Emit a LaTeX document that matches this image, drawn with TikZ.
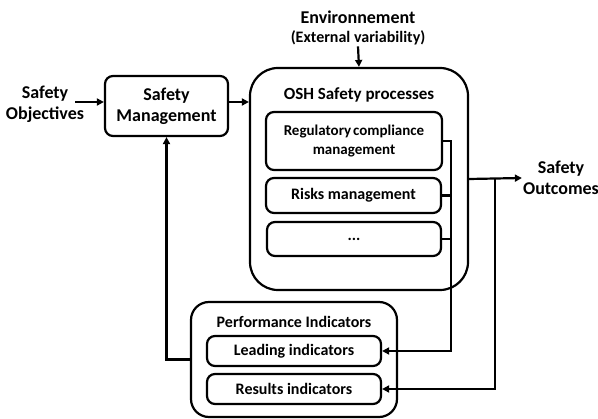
\documentclass[tikz,border=0pt]{standalone}
\usepackage{fontspec}
\setmainfont{Carlito}
\usetikzlibrary{arrows.meta}
\begin{document}
\begin{tikzpicture}[x=1pt,y=-1pt,
  every node/.style={font=\bfseries},
  box/.style={draw,line width=2.2pt,rounded corners=8pt,inner sep=0pt,align=center},
  lbl/.style={inner sep=1pt,align=center},
  conn/.style={line width=2.2pt},
  arr/.style={conn,-{Triangle[length=7pt,width=7pt]}},
  big/.style={font=\fontsize{18}{21}\selectfont\bfseries},
  mid/.style={font=\fontsize{17}{20}\selectfont\bfseries},
  small/.style={font=\fontsize{16}{19}\selectfont\bfseries},
  tiny/.style={font=\fontsize{15}{19}\selectfont\bfseries}]
\useasboundingbox (0,0) rectangle (598,419);
% nodes
\node[lbl,big] (obj) at (45,104) {Safety\\Objectives};
\node[box,big,minimum width=123pt,minimum height=60pt] (sm) at (166.5,106) {Safety\\Management};
\node[box,rounded corners=28pt,minimum width=218pt,minimum height=222pt] (osh) at (359,179) {};
\node[lbl,big] (env) at (358,17) {Environnement};
\node[lbl,small] (ext) at (358,38) {(External variability)};
\node[lbl,mid] (oshtitle) at (359,95) {OSH Safety processes};
\node[box,tiny,minimum width=176pt,minimum height=58pt] (r1) at (354,141) {Regulatory\hspace{0.12em}compliance\\management};
\node[box,small,minimum width=175pt,minimum height=35pt] (r2) at (353.5,195.5) {Risks management};
\node[box,small,minimum width=174pt,minimum height=34pt] (r3) at (354,239) {...};
\node[lbl,big] (out) at (561,178) {Safety\\Outcomes};
\node[box,rounded corners=18pt,minimum width=206pt,minimum height=115pt] (pi) at (294,359.5) {};
\node[lbl,small] (pititle) at (294,322) {Performance Indicators};
\node[box,small,minimum width=174pt,minimum height=30pt] (li) at (294,351) {Leading indicators};
\node[box,small,minimum width=174pt,minimum height=30pt] (ri) at (294,389) {Results indicators};
\coordinate (j1) at (451,351);
\coordinate (j2) at (495,389);
% connectors
\draw[arr] ([xshift=-10pt,yshift=4pt]obj.east |- sm.west) -- ([yshift=4pt]sm.west);
\draw[arr] ([yshift=4pt]sm.east) -- ([yshift=4pt]sm.east -| osh.west);
\draw[arr] (ext.south) -- (osh.north);
\draw[arr] (osh.east) -- (out.west);
\draw[arr] (r1.east) -| (j1) -- (li.east);
\draw[conn] (r2.east) -- (r2.east -| j1);
\draw[conn] (r3.east) -- (r3.east -| j1);
\draw[arr] (j2 |- osh.east) -- (j2) -- (ri.east);
\draw[arr] (pi.west) -| (sm.south);
\end{tikzpicture}
\end{document}
